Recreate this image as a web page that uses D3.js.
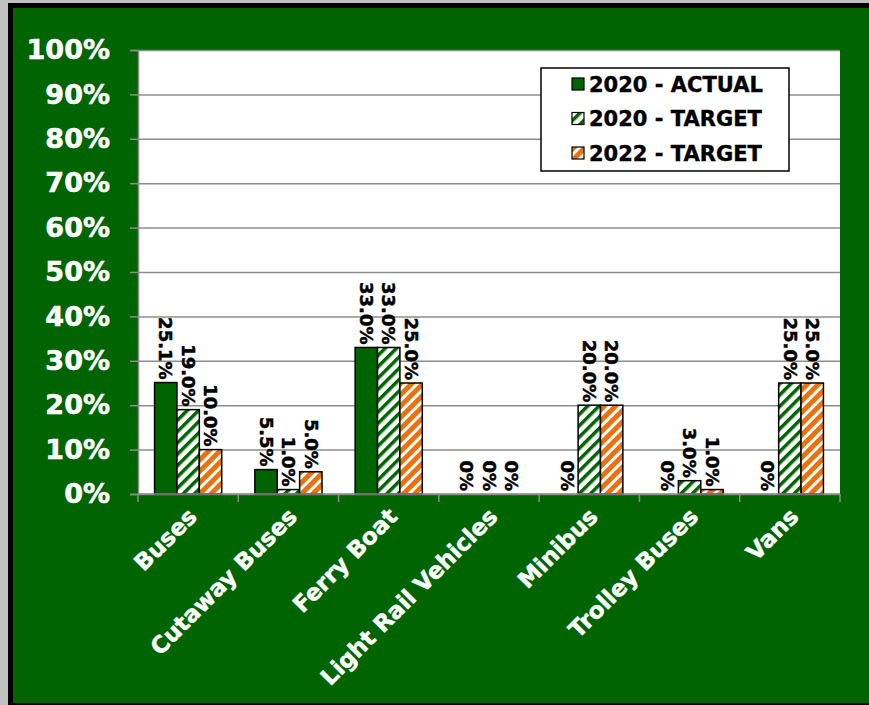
<!DOCTYPE html>
<html>
<head>
<meta charset="utf-8">
<script src="https://cdn.jsdelivr.net/npm/d3@7"></script>
<style>
  body { margin: 0; background: #fff; }
  svg { display: block; }
  text { font-family: "DejaVu Sans", sans-serif; font-weight: bold; }
</style>
</head>
<body>
<svg id="chart"></svg>
<script>
// data
var categories = ["Buses", "Cutaway Buses", "Ferry Boat", "Light Rail Vehicles", "Minibus", "Trolley Buses", "Vans"]
var seriesNames = ["2020 - ACTUAL", "2020 - TARGET", "2022 - TARGET"]
var actual2020 = [25.1, 5.5, 33.0, 0, 0, 0, 0]
var target2020 = [19.0, 1.0, 33.0, 0, 20.0, 3.0, 25.0]
var target2022 = [10.0, 5.0, 25.0, 0, 20.0, 1.0, 25.0]
var yTicks = [0, 10, 20, 30, 40, 50, 60, 70, 80, 90, 100]

var width = 869
var height = 705
var margin = { top: 50, bottom: 211, left: 138, right: 29 }
var bodyWidth = width - margin.left - margin.right
var bodyHeight = height - margin.top - margin.bottom

var green = "#006400"
var orange = "#e8720f"

var svg = d3.select("#chart").attr("width", width).attr("height", height)

// hatch patterns
var defs = svg.append("defs")
var p1 = defs.append("pattern").attr("id", "hatchGreen")
  .attr("patternUnits", "userSpaceOnUse").attr("width", 8).attr("height", 8)
  .attr("patternTransform", "rotate(45)")
p1.append("rect").attr("width", 8).attr("height", 8).attr("fill", "#fff")
p1.append("rect").attr("width", 3.5).attr("height", 8).attr("fill", green)

var p2 = defs.append("pattern").attr("id", "hatchOrange")
  .attr("patternUnits", "userSpaceOnUse").attr("width", 8).attr("height", 8)
  .attr("patternTransform", "rotate(45)")
p2.append("rect").attr("width", 8).attr("height", 8).attr("fill", orange)
p2.append("rect").attr("width", 3).attr("height", 8).attr("fill", "#fff")

var fills = [green, "url(#hatchGreen)", "url(#hatchOrange)"]

// outer frame: shadow, black border, green panel
svg.append("rect").attr("width", width).attr("height", height).attr("fill", "#c0c0c0")
svg.append("rect").attr("x", 8).attr("y", 3).attr("width", width - 8).attr("height", height - 3).attr("fill", "#000")
svg.append("rect").attr("x", 13).attr("y", 8).attr("width", width - 13).attr("height", height - 10).attr("fill", green)

var g = svg.append("g").attr("transform", `translate(${margin.left},${margin.top})`)

var xScale = d3.scaleBand().domain(categories).range([0, bodyWidth])
var xSub = d3.scaleBand().domain(seriesNames).range([0, xScale.bandwidth()]).paddingOuter(0.74)
var yScale = d3.scaleLinear().domain([0, 100]).range([bodyHeight, 0])

g.append("rect").attr("width", bodyWidth).attr("height", bodyHeight).attr("fill", "#fff")

// gridlines + y axis
var yAxis = d3.axisLeft(yScale).tickValues(yTicks).tickSize(8).tickFormat(d => d + "%")
var yG = g.append("g").call(yAxis)
yG.select(".domain").attr("stroke", "#8c8c8c").attr("stroke-width", 1.5)
yG.selectAll(".tick line").attr("stroke", "#8c8c8c").attr("stroke-width", 1.5)
yG.selectAll(".tick").append("line")
  .attr("x2", bodyWidth).attr("stroke", "#8c8c8c").attr("stroke-width", 1.5)
yG.selectAll(".tick text")
  .attr("x", -28).attr("fill", "#fff").attr("font-size", 27)
  .attr("stroke", "#fff").attr("stroke-width", 0.6)
  .style("font-family", "DejaVu Sans").style("font-weight", "bold")

// bars
var allSeries = [actual2020, target2020, target2022]
var barData = []
categories.forEach((c, i) => {
  seriesNames.forEach((s, j) => {
    barData.push({ cat: c, series: s, idx: j, value: allSeries[j][i] })
  })
})

g.selectAll(".bar").data(barData).enter().append("rect")
  .attr("class", "bar")
  .attr("x", d => xScale(d.cat) + xSub(d.series))
  .attr("y", d => yScale(d.value))
  .attr("width", xSub.bandwidth())
  .attr("height", d => bodyHeight - yScale(d.value))
  .attr("fill", d => fills[d.idx])
  .attr("stroke", "#000")
  .attr("stroke-width", d => d.value > 0 ? 1.5 : 0)

// value labels, rotated
g.selectAll(".lbl").data(barData).enter().append("text")
  .attr("class", "lbl")
  .attr("transform", d => `translate(${xScale(d.cat) + xSub(d.series) + xSub.bandwidth() / 2},${yScale(d.value) - 3}) rotate(90)`)
  .attr("text-anchor", "end")
  .attr("dy", "0.35em")
  .attr("font-size", 18)
  .attr("fill", "#000")
  .attr("stroke", "#000").attr("stroke-width", 0.5)
  .text(d => d.value === 0 ? "0%" : d.value.toFixed(1) + "%")

// x axis
var xG = g.append("g").attr("transform", `translate(0,${bodyHeight})`)
xG.append("line").attr("x2", bodyWidth).attr("stroke", "#8c8c8c").attr("stroke-width", 1.5)
xG.selectAll(".xt").data(d3.range(categories.length + 1)).enter().append("line")
  .attr("x1", d => d * xScale.step()).attr("x2", d => d * xScale.step())
  .attr("y2", 8).attr("stroke", "#8c8c8c").attr("stroke-width", 1.5)
xG.selectAll(".xl").data(categories).enter().append("text")
  .attr("transform", d => `translate(${xScale(d) + xScale.bandwidth() / 2 + 10},${24}) rotate(-45)`)
  .attr("text-anchor", "end")
  .attr("font-size", 23)
  .attr("fill", "#fff")
  .attr("stroke", "#fff").attr("stroke-width", 0.5)
  .text(d => d)

// legend
var leg = svg.append("g").attr("transform", "translate(541,68)")
leg.append("rect").attr("width", 248).attr("height", 103)
  .attr("fill", "#fff").attr("stroke", "#000").attr("stroke-width", 1.5)
var items = leg.selectAll(".item").data(seriesNames).enter().append("g")
  .attr("transform", (d, i) => `translate(31,${16 + i * 34.5})`)
items.append("rect").attr("y", -6).attr("width", 12).attr("height", 12)
  .attr("fill", (d, i) => fills[i]).attr("stroke", "#000").attr("stroke-width", 1.2)
items.append("text").attr("x", 17).attr("dy", "0.36em")
  .attr("font-size", 21).attr("fill", "#000")
  .attr("stroke", "#000").attr("stroke-width", 0.4)
  .text(d => d)
</script>
</body>
</html>
